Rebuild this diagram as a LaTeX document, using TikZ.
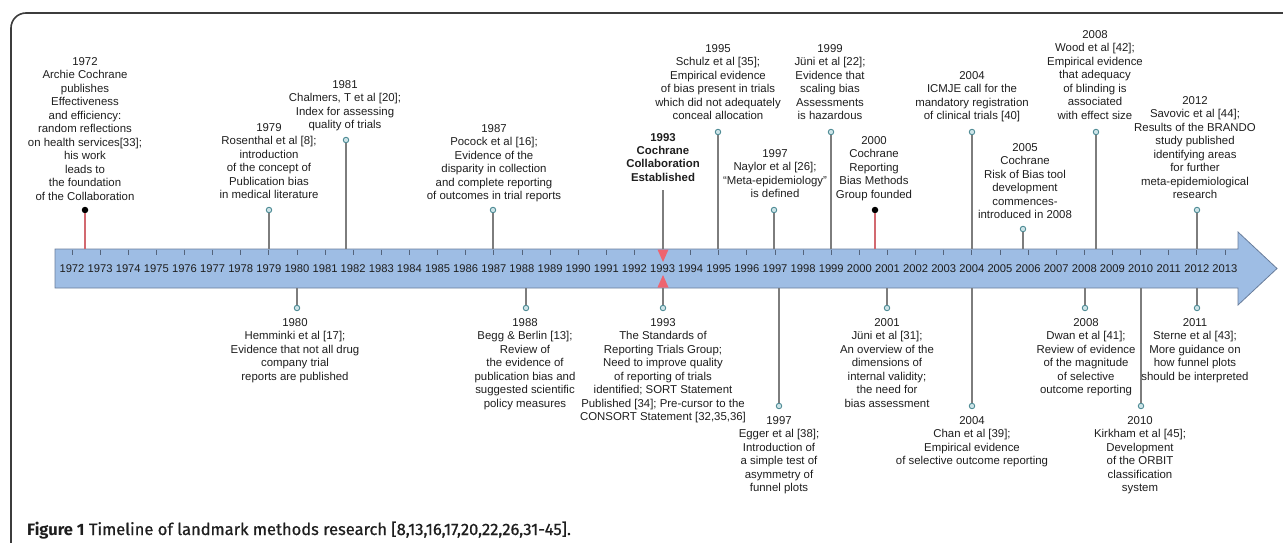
\documentclass[tikz,border=0pt]{standalone}
\usepackage{fontspec}
\setmainfont{Liberation Sans}
\newfontfamily\capfont{Fira Sans}
\newfontfamily\capmed[FakeBold=0.7]{Fira Sans}
\definecolor{barblue}{RGB}{158,189,228}
\definecolor{barline}{RGB}{105,125,155}
\definecolor{stemgray}{RGB}{125,125,125}
\definecolor{dotc}{RGB}{80,140,150}
\definecolor{dotfill}{RGB}{205,228,232}
\definecolor{redstem}{RGB}{210,105,112}
\definecolor{trired}{RGB}{238,100,112}
\definecolor{framec}{RGB}{60,60,60}
\definecolor{txt}{RGB}{30,30,30}
\begin{document}
\begin{tikzpicture}[x=1pt,y=-1pt,
  evtxt/.style={font=\fontsize{11.4}{13.5}\selectfont, align=center, inner sep=0pt, anchor=north, text=txt},
  yearlbl/.style={font=\fontsize{11.2}{13}\selectfont, inner sep=0pt, text=txt},
  tdot/.style={circle, draw=dotc, fill=dotfill, minimum size=5.5pt, inner sep=0pt, line width=0.9pt},
  bdot/.style={circle, fill=black, minimum size=6.5pt, inner sep=0pt},
  stem/.style={draw=stemgray, line width=1.1pt},
  rstem/.style={draw=redstem, line width=1.1pt},
  ticks/.style={draw=barline!80!black, line width=0.8pt},
  tri/.style={fill=trired}
]
\useasboundingbox (0,0) rectangle (1283,543);
% frame
\draw[framec, line width=1.6pt, rounded corners=15pt] (1283,13) -- (11,13) -- (11,543);
% bar with arrow head
\path[draw=barline, fill=barblue, line width=0.8pt]
  (55,249) -- (1238,249) -- (1238,232) -- (1277,268.5) -- (1238,305) -- (1238,288) -- (55,288) -- cycle;
% ticks and years
\foreach \yr in {1972,...,2013}{
  \draw[ticks] ({72+28.12*(\yr-1972)},249.5) -- ++(0,5);
  \node[yearlbl] (y\yr) at ({72+28.12*(\yr-1972)},268.5) {\yr};
}
% ---------------- upper events ----------------
% 1972
\node[evtxt] (u1972) at (85,57) {1972\\Archie Cochrane\\publishes\\Effectiveness\\and efficiency:\\random reflections\\on health services[33];\\his work\\leads to\\the foundation\\of the Collaboration};
\node[bdot] (du1972) at (85,210) {};
\coordinate (bu1972) at (85,249);
\draw[rstem] (du1972) -- (bu1972);
% 1979
\node[evtxt] (u1979) at (269,123) {1979\\Rosenthal et al [8];\\introduction\\of the concept of\\Publication bias\\in medical literature};
\node[tdot] (du1979) at (269,210) {};
\coordinate (bu1979) at (269,249);
\draw[stem] (du1979) -- (bu1979);
% 1981
\node[evtxt] (u1981) at (345,80) {1981\\Chalmers, T et al [20];\\Index for assessing\\quality of trials};
\node[tdot] (du1981) at (346,140) {};
\coordinate (bu1981) at (346,249);
\draw[stem] (du1981) -- (bu1981);
% 1987
\node[evtxt] (u1987) at (494,124) {1987\\Pocock et al [16];\\Evidence of the\\disparity in collection\\and complete reporting\\of outcomes in trial reports};
\node[tdot] (du1987) at (493,210) {};
\coordinate (bu1987) at (493,249);
\draw[stem] (du1987) -- (bu1987);
% 1993
\node[evtxt, font=\bfseries\fontsize{11.4}{13.4}\selectfont] (u1993) at (663,133) {1993\\Cochrane\\Collaboration\\Established};
\coordinate (su1993) at (663,190);
\coordinate (bu1993) at (663,249);
\draw[stem] (su1993) -- (bu1993);
\fill[tri] (657.5,249.5) -- (668.5,249.5) -- (663,262) -- cycle;
% 1995
\node[evtxt] (u1995) at (718,44) {1995\\Schulz et al [35];\\Empirical evidence\\of bias present in trials\\which did not adequately\\conceal allocation};
\node[tdot] (du1995) at (718,132) {};
\coordinate (bu1995) at (718,249);
\draw[stem] (du1995) -- (bu1995);
% 1997
\node[evtxt] (u1997) at (775,149) {1997\\Naylor et al [26];\\“Meta-epidemiology”\\is defined};
\node[tdot] (du1997) at (774,210) {};
\coordinate (bu1997) at (774,249);
\draw[stem] (du1997) -- (bu1997);
% 1999
\node[evtxt] (u1999) at (830,44) {1999\\Jüni et al [22];\\Evidence that\\scaling bias\\Assessments\\is hazardous};
\node[tdot] (du1999) at (831,132) {};
\coordinate (bu1999) at (831,249);
\draw[stem] (du1999) -- (bu1999);
% 2000
\node[evtxt] (u2000) at (874,136) {2000\\Cochrane\\Reporting\\Bias Methods\\Group founded};
\node[bdot] (du2000) at (875,210) {};
\coordinate (bu2000) at (875,249);
\draw[rstem] (du2000) -- (bu2000);
% 2004
\node[evtxt] (u2004) at (972,71) {2004\\ICMJE call for the\\mandatory registration\\of clinical trials [40]};
\node[tdot] (du2004) at (972,132) {};
\coordinate (bu2004) at (972,249);
\draw[stem] (du2004) -- (bu2004);
% 2005
\node[evtxt] (u2005) at (1025,143) {2005\\Cochrane\\Risk of Bias tool\\development\\commences-\\introduced in 2008};
\node[tdot] (du2005) at (1023,229) {};
\coordinate (bu2005) at (1023,249);
\draw[stem] (du2005) -- (bu2005);
% 2008
\node[evtxt] (u2008) at (1095,30) {2008\\Wood et al [42];\\Empirical evidence\\that adequacy\\of blinding is\\associated\\with effect size};
\node[tdot] (du2008) at (1096,132) {};
\coordinate (bu2008) at (1096,249);
\draw[stem] (du2008) -- (bu2008);
% 2012
\node[evtxt] (u2012) at (1195,96) {2012\\Savovic et al [44];\\Results of the BRANDO\\study published\\identifying areas\\for further\\meta-epidemiological\\research};
\node[tdot] (du2012) at (1197,210) {};
\coordinate (bu2012) at (1197,249);
\draw[stem] (du2012) -- (bu2012);
% ---------------- lower events ----------------
% 1980
\node[tdot] (dl1980) at (297,308) {};
\coordinate (bl1980) at (297,288);
\draw[stem] (bl1980) -- (dl1980);
\node[evtxt] (l1980) at (295,318) {1980\\Hemminki et al [17];\\Evidence that not all drug\\company trial\\reports are published};
% 1988
\node[tdot] (dl1988) at (526,308) {};
\coordinate (bl1988) at (526,288);
\draw[stem] (bl1988) -- (dl1988);
\node[evtxt] (l1988) at (525,318) {1988\\Begg \& Berlin [13];\\Review of\\the evidence of\\publication bias and\\suggested scientific\\policy measures};
% 1993
\node[tdot] (dl1993) at (663,308) {};
\coordinate (bl1993) at (663,288);
\draw[stem] (bl1993) -- (dl1993);
\fill[tri] (657.5,287.5) -- (668.5,287.5) -- (663,275) -- cycle;
\node[evtxt] (l1993) at (663,318) {1993\\The Standards of\\Reporting Trials Group;\\Need to improve quality\\of reporting of trials\\identified; SORT Statement\\Published [34]; Pre-cursor to the\\CONSORT Statement [32,35,36]};
% 1997
\node[tdot] (dl1997) at (779,406) {};
\coordinate (bl1997) at (779,288);
\draw[stem] (bl1997) -- (dl1997);
\node[evtxt] (l1997) at (779,416) {1997\\Egger et al [38];\\Introduction of\\a simple test of\\asymmetry of\\funnel plots};
% 2001
\node[tdot] (dl2001) at (887,308) {};
\coordinate (bl2001) at (887,288);
\draw[stem] (bl2001) -- (dl2001);
\node[evtxt] (l2001) at (887,318) {2001\\Jüni et al [31];\\An overview of the\\dimensions of\\internal validity;\\the need for\\bias assessment};
% 2004
\node[tdot] (dl2004) at (972,406) {};
\coordinate (bl2004) at (972,288);
\draw[stem] (bl2004) -- (dl2004);
\node[evtxt] (l2004) at (972,416) {2004\\Chan et al [39];\\Empirical evidence\\of selective outcome reporting};
% 2008
\node[tdot] (dl2008) at (1085,308) {};
\coordinate (bl2008) at (1085,288);
\draw[stem] (bl2008) -- (dl2008);
\node[evtxt] (l2008) at (1086,318) {2008\\Dwan et al [41];\\Review of evidence\\of the magnitude\\of selective\\outcome reporting};
% 2010
\node[tdot] (dl2010) at (1141,406) {};
\coordinate (bl2010) at (1141,288);
\draw[stem] (bl2010) -- (dl2010);
\node[evtxt] (l2010) at (1140,416) {2010\\Kirkham et al [45];\\Development\\of the ORBIT\\classification\\system};
% 2011
\node[tdot] (dl2011) at (1197,308) {};
\coordinate (bl2011) at (1197,288);
\draw[stem] (bl2011) -- (dl2011);
\node[evtxt] (l2011) at (1195,318) {2011\\Sterne et al [43];\\More guidance on\\how funnel plots\\should be interpreted};
% caption
\node[anchor=base west, inner sep=0pt, text=txt, font=\capmed\fontsize{16.5}{19}\selectfont] (cap) at (27,535)
  {{\capfont\bfseries Figure 1} Timeline of landmark methods research [8,13,16,17,20,22,26,31-45].};
\end{tikzpicture}
\end{document}
